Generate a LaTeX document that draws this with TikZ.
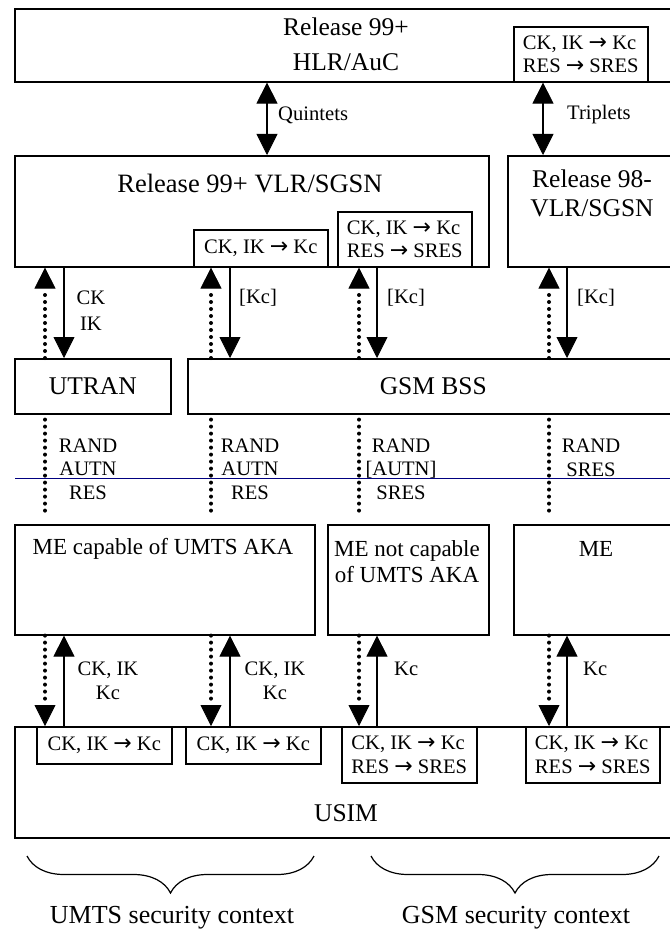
\documentclass[tikz,border=0pt]{standalone}
\usepackage{fontspec}
\setmainfont{Liberation Serif}
\newfontfamily\arrowfont{DejaVu Sans}
\usetikzlibrary{arrows.meta}
\usetikzlibrary{decorations.pathreplacing}

\definecolor{rulenavy}{RGB}{0,0,128}
\newcommand{\convarrow}{{\arrowfont\fontsize{22}{23}\selectfont →}}

\tikzset{
  box/.style={draw, line width=1.6pt, inner sep=0pt, anchor=north west},
  bigtxt/.style={font=\fontsize{25.5}{29}\selectfont, align=center, inner sep=0pt},
  metxt/.style={font=\fontsize{23}{26}\selectfont, align=center, inner sep=0pt},
  smalltxt/.style={font=\fontsize{20.6}{23.5}\selectfont, align=center, inner sep=0pt},
  convtxt/.style={font=\fontsize{20.6}{23.5}\selectfont, align=left, inner sep=2pt},
  ctxtxt/.style={font=\fontsize{26}{30}\selectfont, inner sep=0pt},
  solidarrow/.style={line width=1.6pt, ->},
  dotline/.style={line width=4pt, line cap=round, dash pattern=on 0pt off 7pt},
  >={Triangle[width=21pt,length=21pt,line width=0.8pt]}
}

\begin{document}
\begin{tikzpicture}[x=1pt,y=-1pt,line join=miter]
  \useasboundingbox (0,0) rectangle (669,931);

  % columns of the arrows
  \coordinate (c1d) at (45,0);  \coordinate (c1s) at (64,0);
  \coordinate (c2d) at (211,0); \coordinate (c2s) at (230,0);
  \coordinate (c3d) at (359,0); \coordinate (c3s) at (377,0);
  \coordinate (c4d) at (549,0); \coordinate (c4s) at (567,0);
  \coordinate (qx) at (267,0);  \coordinate (tx) at (543,0);

  % home network
  \node[box, minimum width=664, minimum height=73] (hlr) at (14,8) {};
  \node[bigtxt] (hlrtxt) at (346,44) {Release 99+\\[6pt]HLR/AuC};
  \node[box, convtxt, minimum width=134, minimum height=55] (hlrconv) at (513,26) {CK, IK \convarrow{} Kc\\RES \convarrow{} SRES};

  % serving network
  \node[box, minimum width=474, minimum height=111] (vlr99) at (14,155) {};
  \node[bigtxt, font=\fontsize{26.5}{30}\selectfont] (vlr99txt) at (250,184) {Release 99+ VLR/SGSN};
  \node[box, convtxt, minimum width=134, minimum height=37] (vlrconvA) at (193,229) {CK, IK \convarrow{} Kc};
  \node[box, convtxt, minimum width=134, minimum height=55] (vlrconvB) at (337,211) {CK, IK \convarrow{} Kc\\RES \convarrow{} SRES};
  \node[box, minimum width=171, minimum height=111] (vlr98) at (507,155) {};
  \node[bigtxt] (vlr98txt) at (592,193) {Release 98-\\VLR/SGSN};

  \draw[<->, line width=1.6pt] (hlr.south -| qx) -- (vlr99.north -| qx);
  \draw[<->, line width=1.6pt] (hlrconv.south -| tx) -- (vlr98.north -| tx);
  \node[smalltxt, anchor=west] (quint) at (278,115) {Quintets};
  \node[smalltxt, anchor=west] (trip) at (567,115) {Triplets};

  % radio access
  \node[box, bigtxt, minimum width=156, minimum height=55] (utran) at (14,358) {UTRAN};
  \node[box, bigtxt, minimum width=491, minimum height=55] (bss) at (187,358) {GSM BSS};

  \draw[dotline, ->] (utran.north -| c1d) -- (vlr99.south -| c1d);
  \draw[solidarrow] (vlr99.south -| c1s) -- (utran.north -| c1s);
  \draw[dotline, ->] (bss.north -| c2d) -- (vlrconvA.south -| c2d);
  \draw[solidarrow] (vlrconvA.south -| c2s) -- (bss.north -| c2s);
  \draw[dotline, ->] (bss.north -| c3d) -- (vlrconvB.south -| c3d);
  \draw[solidarrow] (vlrconvB.south -| c3s) -- (bss.north -| c3s);
  \draw[dotline, ->] (bss.north -| c4d) -- (vlr98.south -| c4d);
  \draw[solidarrow] (vlr98.south -| c4s) -- (bss.north -| c4s);

  \node[smalltxt] (ckik) at (91,311) {CK\\[2.5pt]IK};
  \node[smalltxt, anchor=west] (kcA) at (239,298) {[Kc]};
  \node[smalltxt, anchor=west] (kcB) at (387,298) {[Kc]};
  \node[smalltxt, anchor=west] (kcC) at (577,298) {[Kc]};

  % mobile equipment
  \node[box, minimum width=300, minimum height=110] (me1) at (14,524) {};
  \node[metxt] (me1txt) at (163,549) {ME capable of UMTS AKA};
  \node[box, minimum width=161, minimum height=110] (me2) at (327,524) {};
  \node[metxt] (me2txt) at (407,562) {ME not capable\\of UMTS AKA};
  \node[box, minimum width=165, minimum height=110] (me3) at (513,524) {};
  \node[metxt] (me3txt) at (596,549) {ME};

  \draw[dotline, shorten <=5pt, shorten >=8pt] (utran.south -| c1d) -- (me1.north -| c1d);
  \draw[dotline, shorten <=5pt, shorten >=8pt] (bss.south -| c2d) -- (me1.north -| c2d);
  \draw[dotline, shorten <=5pt, shorten >=8pt] (bss.south -| c3d) -- (me2.north -| c3d);
  \draw[dotline, shorten <=5pt, shorten >=8pt] (bss.south -| c4d) -- (me3.north -| c4d);

  \node[smalltxt] (chal1) at (88,469) {RAND\\AUTN\\RES};
  \node[smalltxt] (chal2) at (250,469) {RAND\\AUTN\\RES};
  \node[smalltxt] (chal3) at (401,469) {RAND\\{[AUTN]}\\SRES};
  \node[smalltxt] (chal4) at (591,458) {RAND\\SRES};

  \draw[rulenavy, line width=1pt] (15,478) -- (678,478);

  % USIM
  \node[box, minimum width=664, minimum height=111] (usim) at (14,726) {};
  \node[bigtxt] (usimtxt) at (346,813) {USIM};
  \node[box, convtxt, minimum width=135, minimum height=37] (usimconvA) at (36,726) {CK, IK \convarrow{} Kc};
  \node[box, convtxt, minimum width=135, minimum height=37] (usimconvB) at (185,726) {CK, IK \convarrow{} Kc};
  \node[box, convtxt, minimum width=135, minimum height=56] (usimconvC) at (341,726) {CK, IK \convarrow{} Kc\\RES \convarrow{} SRES};
  \node[box, convtxt, minimum width=134, minimum height=56] (usimconvD) at (525,726) {CK, IK \convarrow{} Kc\\RES \convarrow{} SRES};

  \draw[dotline, ->] (me1.south -| c1d) -- (usimconvA.north -| c1d);
  \draw[solidarrow] (usimconvA.north -| c1s) -- (me1.south -| c1s);
  \draw[dotline, ->] (me1.south -| c2d) -- (usimconvB.north -| c2d);
  \draw[solidarrow] (usimconvB.north -| c2s) -- (me1.south -| c2s);
  \draw[dotline, ->] (me2.south -| c3d) -- (usimconvC.north -| c3d);
  \draw[solidarrow] (usimconvC.north -| c3s) -- (me2.south -| c3s);
  \draw[dotline, ->] (me3.south -| c4d) -- (usimconvD.north -| c4d);
  \draw[solidarrow] (usimconvD.north -| c4s) -- (me3.south -| c4s);

  \node[smalltxt] (keys1) at (108,681) {CK, IK\\Kc};
  \node[smalltxt] (keys2) at (275,681) {CK, IK\\Kc};
  \node[smalltxt, anchor=west] (kcD) at (394,669) {Kc};
  \node[smalltxt, anchor=west] (kcE) at (583,669) {Kc};

  % security contexts
  \draw[line width=1.2pt, decorate, decoration={brace, mirror, amplitude=37pt}] (27,856) -- (314,856);
  \draw[line width=1.2pt, decorate, decoration={brace, mirror, amplitude=37pt}] (371,856) -- (659,856);
  \node[ctxtxt] (umtsctx) at (172,918) {UMTS security context};
  \node[ctxtxt] (gsmctx) at (516,918) {GSM security context};
\end{tikzpicture}
\end{document}
